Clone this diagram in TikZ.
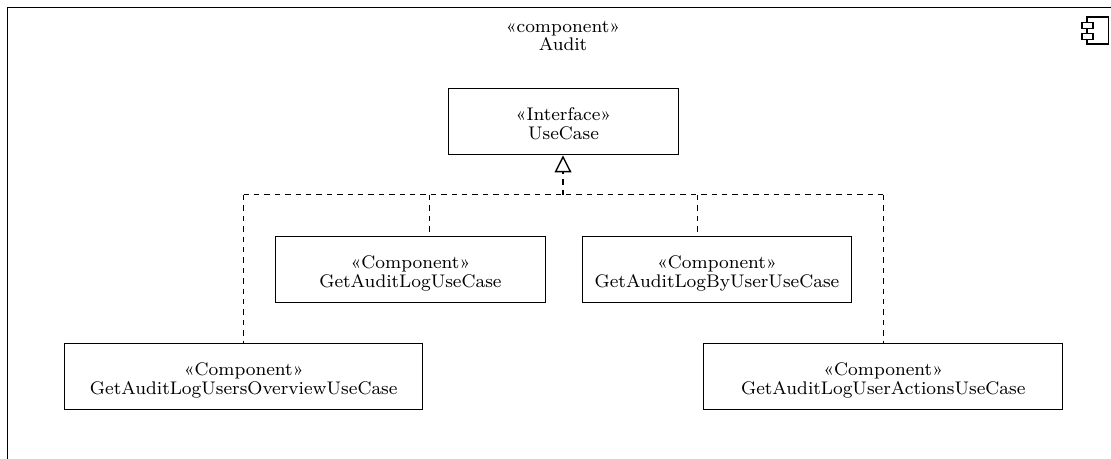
\documentclass[tikz,border=0pt]{standalone}
\usetikzlibrary{arrows.meta}
\newcommand\twol[2]{\rule{0pt}{16pt}\scalebox{1.128}{\fontsize{8.1}{8}\selectfont\begin{tabular}{@{}c@{}}#1\\#2\end{tabular}}}
\tikzset{
  px/.style={x=0.5pt,y=-0.5pt},
  box/.style={draw,line width=0.7pt,minimum height=33pt,inner sep=0pt,anchor=north west},
  frame/.style={draw,line width=0.7pt},
  real/.style={draw,line width=0.5pt,dash pattern=on 2.7pt off 2.5pt},
  realhead/.style={draw,line width=0.6pt,dash pattern=on 2.7pt off 2.5pt,-{Triangle[open,length=8.5pt,width=8.4pt,line width=0.7pt]}},
  label/.style={inner sep=0pt}
}
\begin{document}
\begin{tikzpicture}[px]
\useasboundingbox (0,0) rectangle (1111,459);
\draw[frame] (7.5,459) -- (7.5,7.5) -- (1111,7.5);
\node[label] (title) at (563,33.5) {\twol{«component»}{Audit}};
% component icon
\draw[frame] (1087,17) rectangle (1108.5,44);
\draw[frame,fill=white] (1082,22.5) rectangle (1093,28.5);
\draw[frame,fill=white] (1082,33.5) rectangle (1093,39.5);
\node[box,minimum width=115.25pt] (uc) at (447.5,88) {\twol{«Interface»}{UseCase}};
\node[box,minimum width=134.75pt] (a) at (275,236) {\twol{«Component»}{GetAuditLogUseCase}};
\node[box,minimum width=134.75pt] (b) at (581.5,236) {\twol{«Component»}{GetAuditLogByUserUseCase}};
\node[box,minimum width=179pt] (c) at (64,343) {\twol{«Component»}{GetAuditLogUsersOverviewUseCase}};
\node[box,minimum width=179.5pt] (d) at (703,343) {\twol{«Component»}{GetAuditLogUserActionsUseCase}};
\coordinate (j) at (563,195);
\coordinate (jc) at (243.5,195);
\coordinate (ja) at (429.5,195);
\coordinate (jb) at (697,195);
\coordinate (jd) at (883.5,195);
\draw[real] (jc) -- (jd);
\draw[real] (jc) -- (jc |- c.north);
\draw[real] (ja) -- (ja |- a.north);
\draw[real] (jb) -- (jb |- b.north);
\draw[real] (jd) -- (jd |- d.north);
\draw[realhead] (j) -- (j |- uc.south);
\end{tikzpicture}
\end{document}
